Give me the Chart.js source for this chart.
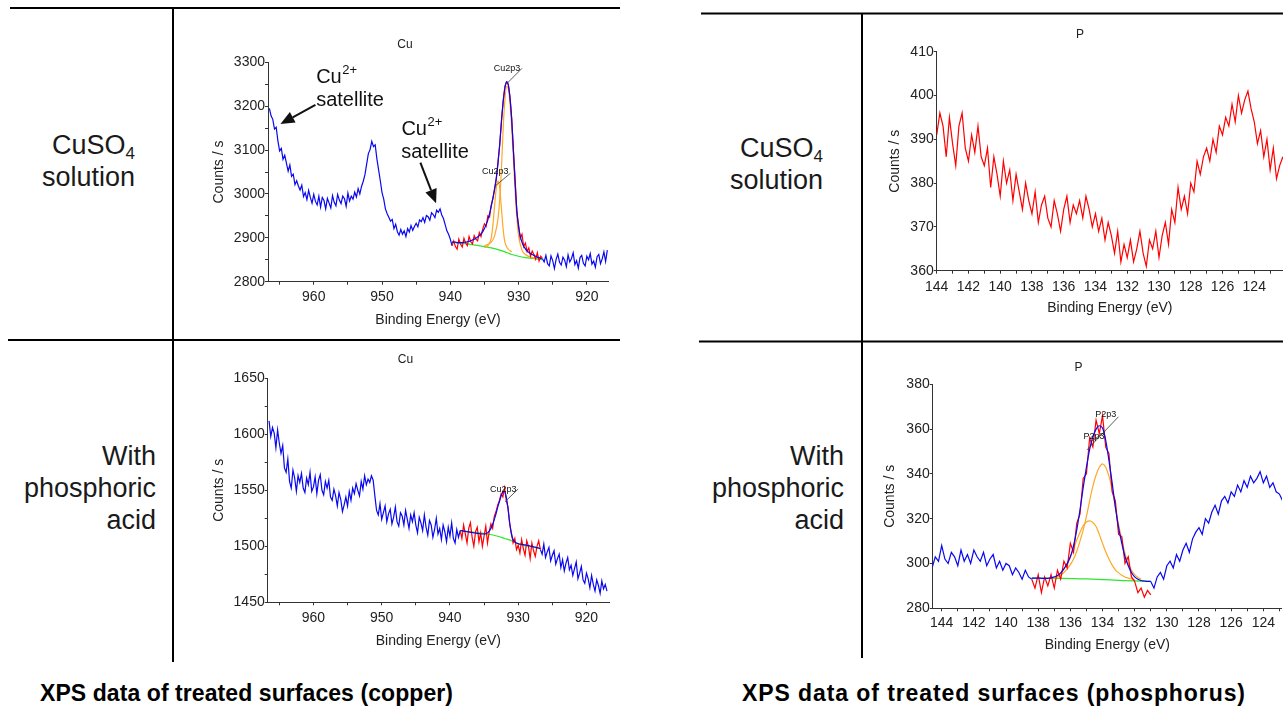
<!DOCTYPE html>
<html><head><meta charset="utf-8">
<script src="https://cdn.jsdelivr.net/npm/chart.js@4.4.0/dist/chart.umd.min.js"></script>
<style>
html,body{margin:0;padding:0;background:#fff;overflow:hidden;width:1283px;height:709px;}
#stage{position:relative;width:1283px;height:709px;}
svg{position:absolute;left:0;top:0;}
canvas{position:absolute;}
</style></head><body>
<div id="stage">
<svg width="1283" height="709" font-family="'Liberation Sans', Arial, sans-serif">
  <g stroke="#000" stroke-width="2">
    <line x1="10" y1="8" x2="620" y2="8"/>
    <line x1="8" y1="340" x2="620" y2="340"/>
    <line x1="173" y1="8" x2="173" y2="662"/>
    <line x1="701" y1="13.5" x2="1283" y2="13.5"/>
    <line x1="699" y1="341.5" x2="1283" y2="341.5"/>
    <line x1="862" y1="13.5" x2="862" y2="658"/>
  </g>
  <g fill="#1a1a1a" font-size="27" text-anchor="end">
    <text x="135" y="153.5">CuSO<tspan font-size="17" dy="5">4</tspan></text>
    <text x="135" y="185.5">solution</text>
    <text x="156" y="465">With</text>
    <text x="156" y="497">phosphoric</text>
    <text x="156" y="529">acid</text>
    <text x="823" y="156.5">CuSO<tspan font-size="17" dy="5">4</tspan></text>
    <text x="823" y="189">solution</text>
    <text x="844" y="465">With</text>
    <text x="844" y="497">phosphoric</text>
    <text x="844" y="529">acid</text>
  </g>
  <g fill="#000" font-size="23" font-weight="bold">
    <text x="40" y="701" textLength="413" lengthAdjust="spacing">XPS data of treated surfaces (copper)</text>
    <text x="742" y="701" textLength="503" lengthAdjust="spacing">XPS data of treated surfaces (phosphorus)</text>
  </g>
</svg>
<canvas id="c1" width="420" height="302" style="left:202px;top:30px"></canvas>
<canvas id="c2" width="420" height="307" style="left:202px;top:345px"></canvas>
<canvas id="c3" width="406" height="300" style="left:877px;top:20px"></canvas>
<canvas id="c4" width="409" height="307" style="left:874px;top:350px"></canvas>
</div>
<script>
// ---------------- DATA ----------------
// Cu 2p, CuSO4 solution (binding energy step 0.25 eV)
const cuA_raw1_start = 966.5;
const cuA_raw1 = [3195,3178,
 3170,3148,3152,3121, 3098,3104,3079,3088, 3070,3052,3066,3040, 3045,3021,3030,3018,
 3009,3020,2994,3003, 2987,3008,2992,2979, 2999,2983,2975,2995, 2970,2992,2985,2966,
 2990,2979,2968,2996, 2981,2973,2999,2986, 2978,2995,2989,2972, 3002,2984,2995,2988,
 3004,2993,3012,3000, 3017,3029,3044,3068, 3092,3101,3120,3108, 3112,3080,3055,3030,
 3003,2988,2966,2955, 2947,2938,2942,2921, 2931,2914,2906,2919, 2908,2916,2903,2921,
 2913,2928,2917,2926, 2933,2925,2941,2937, 2946,2935,2951,2948, 2940,2957,2953,2946,
 2963,2958,2966,2952, 2944,2930,2916,2908,
 2897,2882];
const cuA_fit_start = 939.75;
const cuA_fitRaw = [2882,2893,2880,2874, 2897,2886,2879,2899, 2888,2882,2903,2891, 2886,2905,2897,2893,
 2912,2903,2920,2932, 2926,2950,2947,2975, 2990,3012,3035,3075, 3112,3168,3210,3245,
 3255,3250,3220,3172, 3098,3032,2958,2930, 2899,2908,2880,2888, 2869,2877,2858,2870,
 2862,2851,2866,2847, 2858,2853];
const cuA_fit = [2890,2890,2890,2889,2889,2889,2889,2890,2890,2891,2892,2893,2895,2897,2899,2902,
 2905,2909,2914,2921,2930,2941,2955,2972,2991,3012,3038,3072,3116,3166,3212,3242,
 3256,3248,3218,3168,3098,3025,2962,2925,2903,2890,2881,2875,2870,2867,2864,2862,
 2860,2858,2856,2855,2853,2852];
const cuA_raw2_start = 926.5;
const cuA_raw2 = [2852,2845,2860,2841, 2836,2859,2848,2830, 2851,2863,2844,2838, 2856,2849,2834,2861,
 2845,2853,2866,2839, 2848,2831,2855,2860, 2842,2836,2858,2850, 2864,2840,2847,2833,
 2857,2862,2841,2852, 2868,2846,2872];
const cuA_bgE = [939.75,937,935,934,933,932,931,930,929,928,926.5];
const cuA_bg  = [2890,2885,2880,2877,2873,2868,2862,2858,2855,2853,2850];
const cuA_c1E = [935,934.5,934,933.75,933.5,933.25,933,932.75,932.5,932.25,932,931.5,931];
const cuA_c1  = [2878,2882,2900,2930,2975,3015,3030,3012,2965,2918,2890,2874,2868];
const cuA_c2E = [935,934,933.5,933,932.75,932.5,932.25,932,931.75,931.5,931.25,931,930.75,930.5,930.25,930,929.5,929,928,927];
const cuA_c2  = [2882,2890,2905,2945,2990,3060,3150,3215,3245,3240,3205,3150,3080,3005,2945,2905,2872,2862,2855,2853];

// Cu 2p, with phosphoric acid
const cuB_raw1_start = 966.5;
const cuB_raw1 = [1612,1598,
 1606,1601,1588,1604, 1592,1583,1590,1570, 1566,1578,1558,1552, 1568,1561,1549,1563,
 1557,1565,1552,1548, 1561,1555,1566,1549, 1553,1562,1547,1559, 1564,1550,1546,1558,
 1552,1559,1544,1541, 1551,1545,1536,1548, 1542,1531,1537,1544, 1536,1549,1541,1552,
 1547,1556,1550,1545, 1558,1551,1563,1555, 1560,1557,1563,1559, 1545,1532,1528,1538,
 1524,1530,1536,1522, 1529,1533,1520,1526, 1535,1522,1518,1530, 1527,1519,1532,1524,
 1516,1528,1522,1530, 1519,1512,1526,1521, 1514,1528,1517,1510, 1523,1519,1508,1515,
 1525,1511,1516,1506, 1519,1513,1504,1517, 1509,1521,1507,1503,
 1515,1508,1514];
const cuB_fit_start = 938.5;
const cuB_fitRaw = [1514,1507,
 1519,1511,1503,1516, 1521,1508,1500,1513, 1517,1504,1512,1500, 1509,1518,1503,1513,
 1520,1516,1527,1531, 1537,1541,1547,1544, 1552,1541,1535,1520, 1512,1503,1507,1497,
 1501,1494,1506,1498, 1492,1505,1500,1489, 1503,1496,1491,1500,
 1505,1497];
const cuB_fit = [1514,1514,1513.5,1513.3,1513,1512.8,1512.5,1512.3,1512,1511.8,1511.5,1511.3,1511,1511,1511,1511.2,
 1512,1513.5,1516,1519.5,1524,1529,1535,1540,1545,1548.5,1549,1544,1534,1521,1511,1506,
 1504,1503,1502.5,1502,1501.8,1501.5,1501.2,1501,1500.6,1500.3,1500,1499.6,1499.2,1498.8,1498.5,1498];
const cuB_raw2_start = 926.75;
const cuB_raw2 = [1497,1493,1502,1490, 1495,1499,1487,1492, 1496,1484,1489,1493, 1481,1488,1478,1485,
 1490,1479,1483,1474, 1480,1486,1471,1476, 1482,1470,1467,1476, 1471,1463,1474,1466,
 1460,1470,1465,1458, 1469,1462,1466,1460];
const cuB_bgE = [938.5,934.6,933,932,931,930,929,926.75];
const cuB_bg  = [1514,1511,1509,1507,1505,1502,1500.5,1498];

// P 2p, CuSO4 solution (step 0.2 eV)
const pA_start = 144.0;
const pA_raw = [391,396,393,386,395, 389,384,393,396,388, 385,391,387,393,386, 384,388,379,386,382,
 377,385,380,383,376, 382,378,374,380,376, 373,378,371,375,377, 372,370,376,373,369,
 374,377,371,375,373, 376,372,377,374,370, 373,369,372,367,371, 368,364,369,362,366,
 363,367,362,365,369, 364,361,367,365,369, 363,368,371,366,374, 371,379,374,377,373,
 380,378,385,382,386, 388,385,390,387,393, 391,395,393,398,394, 400,396,399,401,397,
 394,389,392,386,390, 383,388,381,384,386];

// P 2p, with phosphoric acid (step 0.2 eV)
const pB_raw1_start = 144.6;
const pB_raw1 = [298,303,301,308,302,300,305,303,299,306,301,304,300,306,303,301,
 305,299,302,304,298,301,297,300,299,295,298,296,293,297,294,293];
const pB_fit_start = 138.4;
const pB_fitRaw = [293,289,295,287,294,290,295,289,297,293,301,298,309,305,318,322,338,340,356,352,
 364,358,366,352,349,332,328,313,312,300,303,294,292,287,289,285,288,286];
const pB_fit = [293.5,293.5,293.5,293.4,293.4,293.4,293.6,294,294.6,295.8,297.6,300,303,308,315,324,334,343,351,356.5,
 360,361.5,360.5,355,346,336,325,316,309,303,299,296,294,293,292.4,292.2,292,292];
const pB_raw2_start = 131.0;
const pB_raw2 = [292,289,294,296,293,299,301,298,304,301,306,309,305,311,314,316,313,320,318,323,
 326,322,328,330,327,332,330,335,332,337,334,339,336,338,341,336,339,334,336,332,331,328];
const pB_bgE = [138.4,136.5,135,134,133,132,131];
const pB_bg  = [293.5,293.4,293.1,292.8,292.5,292.2,292];
const pB_cA_start = 137.0;
const pB_cA = [293.5,294,294.8,296,297.5,299.5,302,305.5,310,315,321,328,334.5,339.5,343,344.5,343,339,333,325,
 317.5,310.5,304.5,300,297,295,293.8,293];
const pB_cB_start = 137.0;
const pB_cB = [293.5,294,295.5,297.5,299.8,302.8,306.5,310.5,314,316.8,318.5,319,318.3,316.5,313,309,305.2,302,299.3,297.2,
 295.8,294.8,294,293.5,293.1,292.8];

// tick values
const cuXTicks = [965,960,955,950,945,940,935,930,925,920];
const cuXLabels = [960,950,940,930,920];
const cuAYTicks = [2800,2850,2900,2950,3000,3050,3100,3150,3200,3250,3300];
const cuAYLabels = [2800,2900,3000,3100,3200,3300];
const cuBYTicks = [1450,1475,1500,1525,1550,1575,1600,1625,1650];
const cuBYLabels = [1450,1500,1550,1600,1650];
const pXTicks = [144,143,142,141,140,139,138,137,136,135,134,133,132,131,130,129,128,127,126,125,124,123];
const pXLabels = [144,142,140,138,136,134,132,130,128,126,124];
const pAYTicks = [360,370,380,390,400,410];
const pBYTicks = [280,300,320,340,360,380];

// ---------------- HELPERS ----------------
const FONT = '"Liberation Sans", Arial, Helvetica, sans-serif';
Chart.defaults.font.family = FONT;
const BLUE = '#0808f0', RED = '#ff0000', ORANGE = '#ffa726', GREEN = '#2ee62e';

function series(start, step, vals){ return vals.map((v,i)=>({x:+(start - i*step).toFixed(3), y:v})); }
function pairs(es, vals){ return es.map((e,i)=>({x:e, y:vals[i]})); }
function ds(data, color, smooth){
  return {data, borderColor: color, borderWidth: 1.2, pointRadius: 0, fill: false,
          tension: 0, cubicInterpolationMode: smooth ? 'monotone' : 'default'};
}

const annotPlugin = {
  id: 'annot',
  afterDatasetsDraw(chart, args, opts){
    const items = opts && opts.items; if (!items) return;
    const ctx = chart.ctx, xs = chart.scales.x, ys = chart.scales.y;
    const px = e => xs.getPixelForValue(e), py = c => ys.getPixelForValue(c);
    ctx.save();
    items.forEach(it => {
      ctx.fillStyle = it.color || '#111'; ctx.strokeStyle = it.color || '#111';
      if (it.type === 'text'){
        ctx.font = it.size + 'px ' + FONT;
        ctx.textAlign = 'left'; ctx.textBaseline = it.baseline || 'alphabetic';
        const x = px(it.e), y = py(it.c);
        ctx.fillText(it.text, x, y);
        if (it.sup){
          const w = ctx.measureText(it.text).width;
          ctx.font = it.supSize + 'px ' + FONT;
          ctx.fillText(it.sup, x + w + 0.5, y - it.supRaise);
        }
      } else if (it.type === 'line'){
        ctx.lineWidth = it.width || 0.8; ctx.strokeStyle = it.color || '#333';
        ctx.beginPath(); ctx.moveTo(px(it.e1), py(it.c1)); ctx.lineTo(px(it.e2), py(it.c2)); ctx.stroke();
      } else if (it.type === 'arrow'){
        const x1 = px(it.e1), y1 = py(it.c1), x2 = px(it.e2), y2 = py(it.c2);
        const a = Math.atan2(y2 - y1, x2 - x1), L = 14, W = 6;
        const bx = x2 - L*Math.cos(a), by = y2 - L*Math.sin(a);
        ctx.lineWidth = 2;
        ctx.beginPath(); ctx.moveTo(x1, y1); ctx.lineTo(bx, by); ctx.stroke();
        ctx.beginPath(); ctx.moveTo(x2, y2);
        ctx.lineTo(bx + W*Math.sin(a), by - W*Math.cos(a));
        ctx.lineTo(bx - W*Math.sin(a), by + W*Math.cos(a));
        ctx.closePath(); ctx.fill();
      }
    });
    ctx.restore();
  }
};
Chart.register(annotPlugin);

function makeChart(id, c){
  const TXT = '#222';
  return new Chart(document.getElementById(id), {
    type: 'line',
    data: {datasets: c.datasets},
    options: {
      responsive: false, animation: false, devicePixelRatio: 1, events: [],
      layout: {padding: {left: 0, top: 0, bottom: 0, right: c.padR}},
      plugins: {
        legend: {display: false}, tooltip: {enabled: false},
        title: {display: true, text: c.title, color: TXT, font: {size: 12, weight: 'normal'},
                padding: {top: c.tPadTop, bottom: c.tPadBot}},
        annot: {items: c.annot || []}
      },
      scales: {
        x: {
          type: 'linear', reverse: true, min: c.xMin, max: c.xMax,
          afterBuildTicks: s => { s.ticks = c.xTicks.map(v => ({value: v})); },
          afterFit: s => { s.height = c.xH; },
          ticks: {callback: v => c.xLabels.includes(v) ? String(v) : '', autoSkip: false, maxRotation: 0,
                  padding: c.xTickPad, color: TXT, font: {size: 14}},
          grid: {display: true, drawOnChartArea: false, drawTicks: true, tickLength: 3, color: '#333'},
          border: {display: true, color: '#333', width: 1},
          title: {display: true, text: 'Binding Energy (eV)', color: TXT, font: {size: 14},
                  padding: {top: 0, bottom: c.xtPadBot}}
        },
        y: {
          type: 'linear', min: c.yMin, max: c.yMax,
          afterBuildTicks: s => { s.ticks = c.yTicks.map(v => ({value: v})); },
          afterFit: s => { s.width = c.yW; },
          ticks: {callback: v => c.yLabels.includes(v) ? String(v) : '', autoSkip: false,
                  padding: 0, color: TXT, font: {size: 14}},
          grid: {display: true, drawOnChartArea: false, drawTicks: true, tickLength: 3, color: '#333'},
          border: {display: true, color: '#333', width: 1},
          title: {display: true, text: 'Counts / s', color: TXT, font: {size: 14},
                  padding: {top: c.ytPadTop, bottom: 0}}
        }
      }
    }
  });
}

// ---------------- CHARTS ----------------
makeChart('c1', {
  title: 'Cu', padR: 14, tPadTop: 7.8, tPadBot: 10.1, xH: 50.3, yW: 66, xTickPad: 3.6, xtPadBot: 3.6, ytPadTop: 8.9,
  xMin: 916.9, xMax: 966.7, yMin: 2800, yMax: 3300,
  xTicks: cuXTicks, xLabels: cuXLabels, yTicks: cuAYTicks, yLabels: cuAYLabels,
  datasets: [
    ds(series(cuA_fit_start, 0.25, cuA_fit), BLUE, true),
    ds(series(cuA_fit_start, 0.25, cuA_fitRaw), RED),
    ds(pairs(cuA_c1E, cuA_c1), ORANGE, true),
    ds(pairs(cuA_c2E, cuA_c2), ORANGE, true),
    ds(pairs(cuA_bgE, cuA_bg), GREEN, true),
    ds(series(cuA_raw1_start, 0.25, cuA_raw1), BLUE),
    ds(series(cuA_raw2_start, 0.25, cuA_raw2), BLUE)
  ],
  annot: [
    {type: 'text', e: 959.65, c: 3253.5, text: 'Cu', size: 20, sup: '2+', supSize: 13, supRaise: 9},
    {type: 'text', e: 959.65, c: 3200.4, text: 'satellite', size: 20},
    {type: 'arrow', e1: 959.75, c1: 3202.7, e2: 964.88, c2: 3159.4},
    {type: 'text', e: 947.16, c: 3134.3, text: 'Cu', size: 20, sup: '2+', supSize: 13, supRaise: 9},
    {type: 'text', e: 947.2, c: 3081.2, text: 'satellite', size: 20},
    {type: 'arrow', e1: 944.38, c1: 3071.2, e2: 942.08, c2: 2978.7},
    {type: 'text', e: 933.65, c: 3286.3, text: 'Cu2p3', size: 9, baseline: 'middle'},
    {type: 'line', e1: 929.49, c1: 3286.3, e2: 931.68, c2: 3252.1},
    {type: 'text', e: 935.34, c: 3050.7, text: 'Cu2p3', size: 9, baseline: 'middle'},
    {type: 'line', e1: 931.2, c1: 3047, e2: 933.54, c2: 3016.5}
  ]
});

makeChart('c2', {
  title: 'Cu', padR: 13, tPadTop: 7.8, tPadBot: 11.1, xH: 49.7, yW: 65.7, xTickPad: 4, xtPadBot: 2.9, ytPadTop: 8.9,
  xMin: 916.7, xMax: 966.7, yMin: 1450, yMax: 1650,
  xTicks: cuXTicks, xLabels: cuXLabels, yTicks: cuBYTicks, yLabels: cuBYLabels,
  datasets: [
    ds(series(cuB_fit_start, 0.25, cuB_fit), BLUE, true),
    ds(series(cuB_fit_start, 0.25, cuB_fitRaw), RED),
    ds(pairs(cuB_bgE, cuB_bg), GREEN, true),
    ds(series(cuB_raw1_start, 0.25, cuB_raw1), BLUE),
    ds(series(cuB_raw2_start, 0.25, cuB_raw2), BLUE)
  ],
  annot: [
    {type: 'text', e: 934.13, c: 1550.3, text: 'Cu2p3', size: 9, baseline: 'middle'},
    {type: 'line', e1: 930.0, c1: 1551.2, e2: 931.93, c2: 1539.8}
  ]
});

makeChart('c3', {
  title: 'P', padR: 0, tPadTop: 7.8, tPadBot: 9.5, xH: 49.3, yW: 59.7, xTickPad: 4.6, xtPadBot: 3.3, ytPadTop: 9.6,
  xMin: 122.19, xMax: 144.0, yMin: 360, yMax: 410,
  xTicks: pXTicks, xLabels: pXLabels, yTicks: pAYTicks, yLabels: pAYTicks,
  datasets: [ ds(series(pA_start, 0.2, pA_raw), RED) ]
});

makeChart('c4', {
  title: 'P', padR: 0, tPadTop: 10.1, tPadBot: 9.8, xH: 48.7, yW: 58.7, xTickPad: 3.6, xtPadBot: 3.6, ytPadTop: 7.6,
  xMin: 122.84, xMax: 144.56, yMin: 280, yMax: 380,
  xTicks: pXTicks, xLabels: pXLabels, yTicks: pBYTicks, yLabels: pBYTicks,
  datasets: [
    ds(series(pB_fit_start, 0.2, pB_fit), BLUE, true),
    ds(series(pB_fit_start, 0.2, pB_fitRaw), RED),
    ds(series(pB_cA_start, 0.2, pB_cA), ORANGE, true),
    ds(series(pB_cB_start, 0.2, pB_cB), ORANGE, true),
    ds(pairs(pB_bgE, pB_bg), GREEN, true),
    ds(series(pB_raw1_start, 0.2, pB_raw1), BLUE),
    ds(series(pB_raw2_start, 0.2, pB_raw2), BLUE)
  ],
  annot: [
    {type: 'text', e: 134.45, c: 366.3, text: 'P2p3', size: 9, baseline: 'middle'},
    {type: 'line', e1: 133.01, c1: 365.5, e2: 134.97, c2: 350.7},
    {type: 'text', e: 135.18, c: 356.6, text: 'P2p3', size: 9, baseline: 'middle'},
    {type: 'line', e1: 133.83, c1: 358.8, e2: 134.66, c2: 354.7}
  ]
});
</script>
</body></html>
